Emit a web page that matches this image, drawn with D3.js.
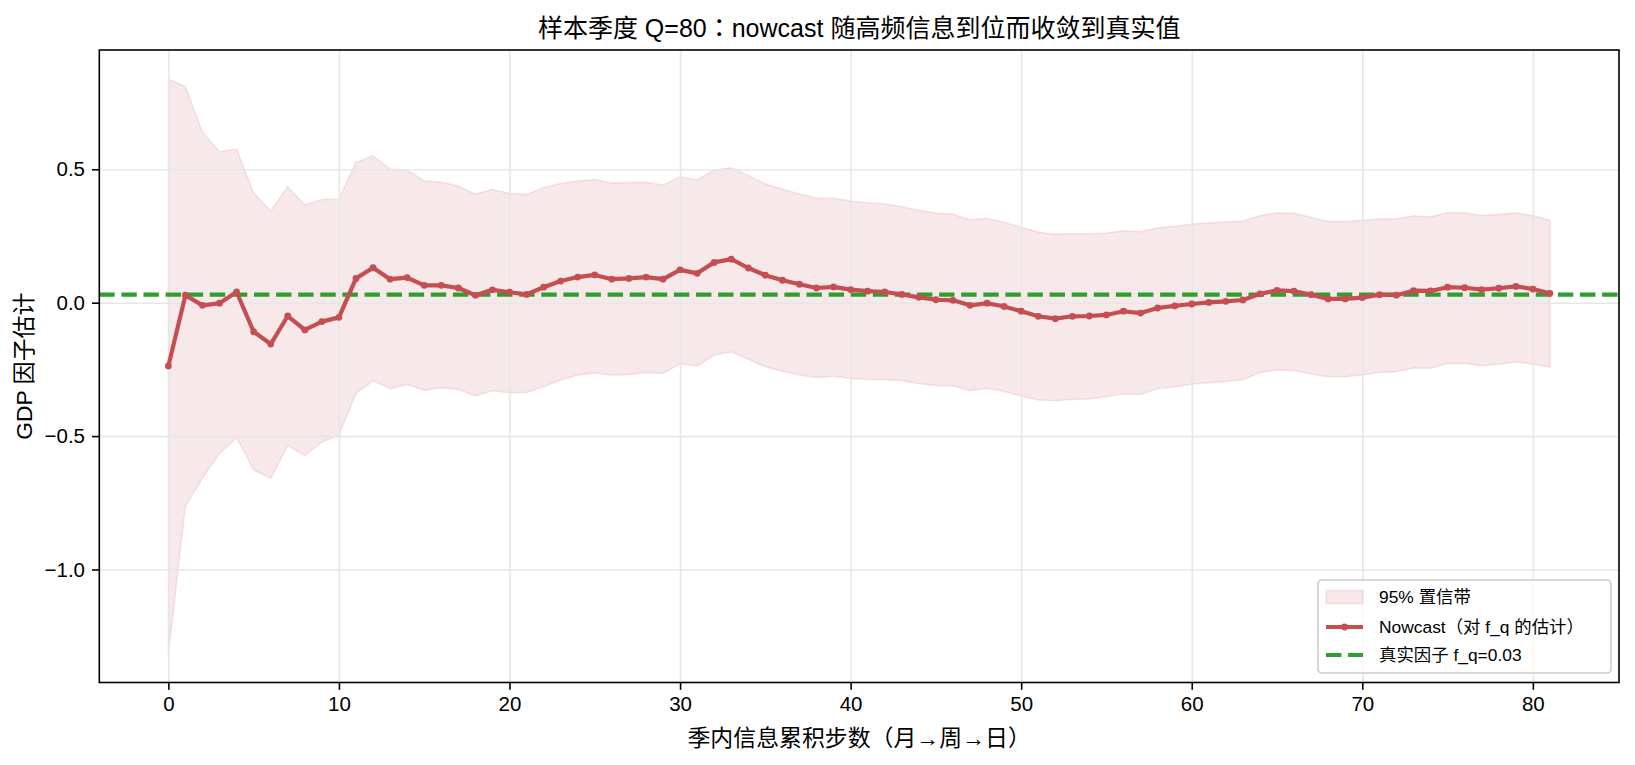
<!DOCTYPE html>
<html>
<head>
<meta charset="utf-8">
<script src="https://cdn.jsdelivr.net/npm/d3@7"></script>
<style>
	body { margin: 0; background: #fff; }
	svg { display: block; }
	text { font-family: 'Liberation Sans', 'Noto Sans CJK SC', sans-serif; fill: #000; }
	tspan.punct { font-family: 'Noto Sans CJK TC', 'Noto Sans CJK SC', sans-serif; }
</style>
</head>
<body>
<div id="chart"></div>
<script>
// data
var truthValue = 0.03;
var nowcast = [
	-0.237, 0.028, -0.010, -0.002, 0.040, -0.109, -0.155, -0.050, -0.102, -0.071,
	-0.055, 0.091, 0.131, 0.088, 0.094, 0.065, 0.065, 0.055, 0.028, 0.048,
	0.039, 0.031, 0.058, 0.081, 0.096, 0.104, 0.088, 0.091, 0.096, 0.088,
	0.123, 0.110, 0.151, 0.163, 0.130, 0.103, 0.084, 0.069, 0.055, 0.059,
	0.049, 0.043, 0.040, 0.031, 0.020, 0.011, 0.009, -0.010, -0.002, -0.014,
	-0.032, -0.051, -0.060, -0.051, -0.050, -0.046, -0.032, -0.039, -0.020, -0.012,
	-0.005, 0.001, 0.005, 0.010, 0.033, 0.046, 0.043, 0.030, 0.014, 0.014,
	0.019, 0.030, 0.028, 0.045, 0.044, 0.058, 0.056, 0.049, 0.054, 0.061,
	0.051, 0.035
];
var upper = [
	0.838, 0.810, 0.639, 0.566, 0.576, 0.412, 0.344, 0.435, 0.366, 0.387,
	0.389, 0.525, 0.550, 0.501, 0.497, 0.457, 0.451, 0.437, 0.407, 0.425,
	0.409, 0.405, 0.432, 0.447, 0.457, 0.462, 0.449, 0.450, 0.451, 0.441,
	0.472, 0.459, 0.497, 0.506, 0.477, 0.445, 0.426, 0.407, 0.392, 0.391,
	0.381, 0.375, 0.370, 0.360, 0.346, 0.336, 0.331, 0.311, 0.316, 0.301,
	0.283, 0.265, 0.256, 0.258, 0.258, 0.261, 0.270, 0.266, 0.281, 0.286,
	0.295, 0.299, 0.302, 0.306, 0.326, 0.337, 0.335, 0.320, 0.304, 0.304,
	0.309, 0.314, 0.315, 0.326, 0.322, 0.337, 0.337, 0.327, 0.331, 0.337,
	0.326, 0.310
];
var lower = [
	-1.320, -0.762, -0.658, -0.565, -0.506, -0.627, -0.658, -0.536, -0.573, -0.523,
	-0.497, -0.340, -0.293, -0.322, -0.307, -0.328, -0.319, -0.325, -0.350, -0.330,
	-0.338, -0.337, -0.315, -0.290, -0.272, -0.264, -0.272, -0.269, -0.262, -0.265,
	-0.229, -0.238, -0.196, -0.185, -0.212, -0.240, -0.257, -0.271, -0.280, -0.276,
	-0.284, -0.288, -0.289, -0.292, -0.304, -0.310, -0.311, -0.330, -0.321, -0.333,
	-0.350, -0.365, -0.368, -0.363, -0.361, -0.353, -0.341, -0.343, -0.323, -0.315,
	-0.306, -0.300, -0.295, -0.289, -0.262, -0.252, -0.255, -0.267, -0.278, -0.278,
	-0.271, -0.262, -0.259, -0.245, -0.246, -0.228, -0.228, -0.236, -0.231, -0.222,
	-0.230, -0.242
];
var steps = d3.range(nowcast.length);
var xTicks = [0, 10, 20, 30, 40, 50, 60, 70, 80];
var yTicks = [-1.0, -0.5, 0.0, 0.5];
var legendLabels = ['95% 置信带', 'Nowcast（对 f_q 的估计）', '真实因子 f_q=0.03'];

(function () {
	var width = 1635;
	var height = 765;
	var margin = { top: 50, right: 16, bottom: 82.5, left: 99.3 };
	var innerW = width - margin.left - margin.right;
	var innerH = height - margin.top - margin.bottom;

	var red = '#c44e52';
	var green = '#2ca02c';
	var gridColor = '#e7e7e7';

	var svg = d3.select('#chart').append('svg')
		.attr('width', width).attr('height', height);

	var x = d3.scaleLinear().domain([-4.05, 85.05]).range([0, innerW]);
	var y = d3.scaleLinear().domain([-1.4235, 0.947]).range([innerH, 0]);

	var g = svg.append('g')
		.attr('transform', 'translate(' + [margin.left, margin.top] + ')');

	var rows = steps.map(function (s, i) {
		return { step: s, value: nowcast[i], hi: upper[i], lo: lower[i] };
	});

	// confidence band
	var area = d3.area()
		.x(d => x(d.step))
		.y0(d => y(d.lo))
		.y1(d => y(d.hi));
	g.append('path')
		.datum(rows)
		.attr('d', area)
		.attr('fill', red)
		.attr('fill-opacity', 0.13)
		.attr('stroke', red)
		.attr('stroke-opacity', 0.13)
		.attr('stroke-width', 1.5);

	// grid
	g.append('g')
		.attr('transform', 'translate(0,' + innerH + ')')
		.call(d3.axisBottom(x).tickValues(xTicks).tickSize(-innerH).tickFormat(''))
		.call(sel => sel.select('.domain').remove())
		.selectAll('line')
		.attr('stroke', gridColor)
		.attr('stroke-width', 1.6);
	g.append('g')
		.call(d3.axisLeft(y).tickValues(yTicks).tickSize(-innerW).tickFormat(''))
		.call(sel => sel.select('.domain').remove())
		.selectAll('line')
		.attr('stroke', gridColor)
		.attr('stroke-width', 1.6);

	// true value
	g.append('line')
		.attr('x1', 0).attr('x2', innerW)
		.attr('y1', y(truthValue)).attr('y2', y(truthValue))
		.attr('stroke', green)
		.attr('stroke-width', 4.2)
		.attr('stroke-dasharray', '15.4,6.7');

	// nowcast line + markers
	var line = d3.line()
		.x(d => x(d.step))
		.y(d => y(d.value));
	g.append('path')
		.datum(rows)
		.attr('d', line)
		.attr('fill', 'none')
		.attr('stroke', red)
		.attr('stroke-width', 4.2)
		.attr('stroke-linejoin', 'round');
	g.append('g').selectAll('circle')
		.data(rows)
		.enter().append('circle')
		.attr('cx', d => x(d.step))
		.attr('cy', d => y(d.value))
		.attr('r', 3.4)
		.attr('fill', red);

	// axes
	var xAxis = g.append('g')
		.attr('transform', 'translate(0,' + innerH + ')')
		.call(d3.axisBottom(x).tickValues(xTicks).tickSizeInner(7.3).tickSizeOuter(0).tickPadding(7));
	var yAxis = g.append('g')
		.call(d3.axisLeft(y).tickValues(yTicks).tickSizeInner(7.3).tickSizeOuter(0).tickPadding(7)
			.tickFormat(d3.format('.1f')));
	[xAxis, yAxis].forEach(function (ax) {
		ax.select('.domain').remove();
		ax.selectAll('.tick line').attr('stroke', '#000').attr('stroke-width', 1.6);
		ax.selectAll('.tick text')
			.attr('font-size', 20.5)
			.attr('font-family', null)
			.attr('fill', '#000');
	});

	// spines
	g.append('rect')
		.attr('width', innerW).attr('height', innerH)
		.attr('fill', 'none')
		.attr('stroke', '#000')
		.attr('stroke-width', 1.6);

	// full-width punctuation in a font that centres it, like the reference
	function setText(sel, str) {
		var parts = str.split(/([：（）])/).filter(s => s.length);
		sel.selectAll('tspan')
			.data(parts)
			.enter().append('tspan')
			.classed('punct', d => /[：（）]/.test(d))
			.text(d => d);
	}

	// titles
	svg.append('text')
		.attr('x', margin.left + innerW / 2)
		.attr('y', 37)
		.attr('text-anchor', 'middle')
		.attr('font-size', 25)
		.call(setText, '样本季度 Q=80：nowcast 随高频信息到位而收敛到真实值');
	svg.append('text')
		.attr('x', margin.left + innerW / 2)
		.attr('y', 746)
		.attr('text-anchor', 'middle')
		.attr('font-size', 22.9)
		.call(setText, '季内信息累积步数（月→周→日）');
	svg.append('text')
		.attr('transform', 'translate(32,' + (margin.top + innerH / 2) + ') rotate(-90)')
		.attr('text-anchor', 'middle')
		.attr('font-size', 22.9)
		.text('GDP 因子估计');

	// legend
	var legend = svg.append('g')
		.attr('transform', 'translate(1318,580)');
	legend.append('rect')
		.attr('width', 293).attr('height', 93)
		.attr('rx', 4)
		.attr('fill', '#fff')
		.attr('fill-opacity', 0.8)
		.attr('stroke', '#cccccc')
		.attr('stroke-width', 1.6);
	var rowY = [17, 47, 75];
	legend.append('rect')
		.attr('x', 8).attr('y', rowY[0] - 6.5)
		.attr('width', 37).attr('height', 13)
		.attr('fill', red).attr('fill-opacity', 0.13)
		.attr('stroke', red).attr('stroke-opacity', 0.13)
		.attr('stroke-width', 1.5);
	legend.append('line')
		.attr('x1', 8).attr('x2', 45)
		.attr('y1', rowY[1]).attr('y2', rowY[1])
		.attr('stroke', red).attr('stroke-width', 4.2);
	legend.append('circle')
		.attr('cx', 26.5).attr('cy', rowY[1])
		.attr('r', 3.4).attr('fill', red);
	legend.append('line')
		.attr('x1', 8).attr('x2', 45)
		.attr('y1', rowY[2]).attr('y2', rowY[2])
		.attr('stroke', green).attr('stroke-width', 4.2)
		.attr('stroke-dasharray', '15.4,6.7');
	legend.selectAll('.label')
		.data(legendLabels)
		.enter().append('text')
		.classed('label', true)
		.attr('x', 61)
		.attr('y', (d, i) => rowY[i])
		.attr('dy', '0.35em')
		.attr('font-size', 17.4)
		.each(function (d) { d3.select(this).call(setText, d); });
})();
</script>
</body>
</html>
